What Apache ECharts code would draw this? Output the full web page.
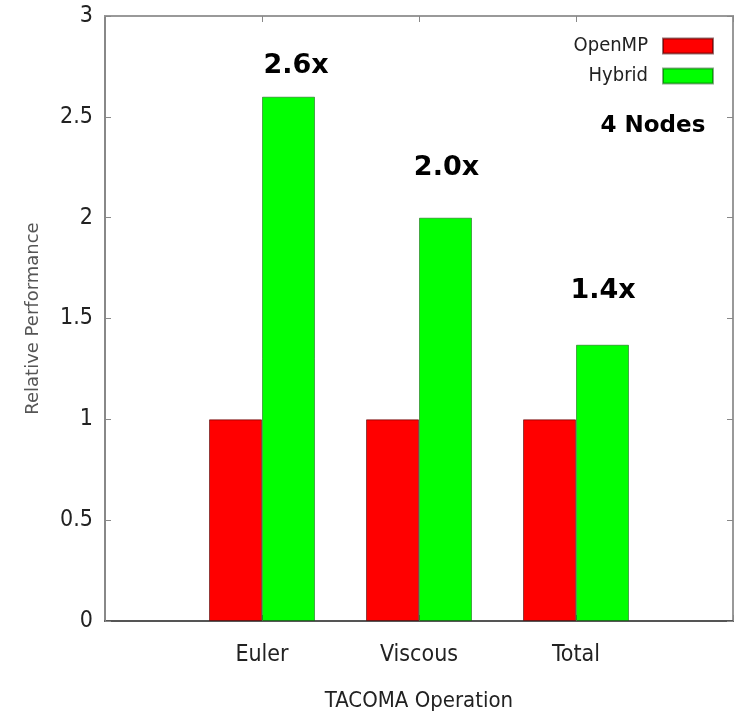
<!DOCTYPE html>
<html>
<head>
<meta charset="utf-8">
<script src="https://cdn.jsdelivr.net/npm/echarts@6/dist/echarts.min.js"></script>
<style>html,body{margin:0;padding:0;background:#fff}#c{width:736px;height:713px}</style>
</head>
<body>
<div id="c"></div>
<script>
var categories = ['Euler', 'Viscous', 'Total'];
var categoryPositions = [1, 2, 3];
var openmpValues = [1, 1, 1];
var hybridValues = [2.6, 2.0, 1.37];
var seriesNames = ['OpenMP', 'Hybrid'];
var speedupLabels = ['2.6x', '2.0x', '1.4x'];
var yTicks = [0, 0.5, 1, 1.5, 2, 2.5, 3];

// annotation anchors in data coordinates (x on 0..4 scale, y in value units)
var speedupAnchors = [[1.217, 2.752], [2.175, 2.245], [3.172, 1.634]];
var nodesLabel = '4 Nodes';
var nodesAnchor = [3.49, 2.455];

var narrow = "'Liberation Sans Narrow','DejaVu Sans Condensed','Liberation Sans',sans-serif";
var chart = echarts.init(document.getElementById('c'), null, {renderer: 'canvas'});

function pairs(xs, ys) { return xs.map(function (x, i) { return [x, ys[i]]; }); }

var tickStyle = {show: true, inside: true, length: 6, lineStyle: {color: '#888', width: 1}};

var option = {
  animation: false,
  backgroundColor: '#fff',
  grid: {left: 105, right: 3, top: 16, bottom: 92, show: true, borderColor: '#999', borderWidth: 2,
    containLabel: false, outerBoundsMode: 'none'},
  legend: {
    orient: 'vertical', right: 17, top: 31, align: 'right',
    itemWidth: 50, itemHeight: 15, itemGap: 10,
    icon: 'rect',
    textStyle: {fontFamily: narrow, fontSize: 20, color: '#222', lineHeight: 15, padding: [0, 10, 0, 0]},
    data: seriesNames
  },
  xAxis: [{
    type: 'value', min: 0, max: 4, interval: 1,
    name: 'TACOMA Operation', nameLocation: 'middle', nameGap: 69,
    nameTextStyle: {fontFamily: narrow, fontSize: 22, color: '#222'},
    axisLine: {show: true, onZero: false, lineStyle: {color: '#555', width: 2}},
    axisTick: tickStyle,
    axisLabel: {margin: 23, fontFamily: narrow, fontSize: 23, color: '#222',
      formatter: function (v) { var i = categoryPositions.indexOf(v); return i >= 0 ? categories[i] : ''; }},
    splitLine: {show: false}
  }, {
    type: 'value', min: 0, max: 4, interval: 1, position: 'top',
    axisLine: {show: true, onZero: false, lineStyle: {color: '#999', width: 2}},
    axisTick: tickStyle,
    axisLabel: {show: false}, splitLine: {show: false}
  }],
  yAxis: [{
    type: 'value', min: yTicks[0], max: yTicks[yTicks.length - 1], interval: 0.5,
    name: 'Relative Performance', nameLocation: 'middle', nameGap: 63, nameRotate: 90,
    nameTextStyle: {fontFamily: "'DejaVu Sans',sans-serif", fontSize: 18, color: '#555'},
    axisLine: {show: true, onZero: false, lineStyle: {color: '#888', width: 2}},
    axisTick: tickStyle,
    axisLabel: {margin: 12, fontFamily: narrow, fontSize: 23, color: '#222'},
    splitLine: {show: false}
  }, {
    type: 'value', min: yTicks[0], max: yTicks[yTicks.length - 1], interval: 0.5, position: 'right',
    axisLine: {show: true, onZero: false, lineStyle: {color: '#999', width: 2}},
    axisTick: tickStyle,
    axisLabel: {show: false}, splitLine: {show: false}
  }],
  series: [{
    name: seriesNames[0], type: 'bar', barWidth: 53, barGap: '0%',
    itemStyle: {color: '#ff0000', borderColor: 'rgba(60,0,0,0.55)', borderWidth: 1},
    data: pairs(categoryPositions, openmpValues)
  }, {
    name: seriesNames[1], type: 'bar', barWidth: 53, barGap: '0%',
    itemStyle: {color: '#00ff00', borderColor: 'rgba(0,60,0,0.45)', borderWidth: 1},
    data: pairs(categoryPositions, hybridValues)
  }]
};
chart.setOption(option);

var graphics = [];
speedupLabels.forEach(function (t, i) {
  var p = chart.convertToPixel({xAxisIndex: 0, yAxisIndex: 0}, speedupAnchors[i]);
  graphics.push({type: 'text', x: p[0], y: p[1], z: 10,
    style: {text: t, fill: '#000', font: "bold 27px 'DejaVu Sans', sans-serif", textAlign: 'center', textVerticalAlign: 'middle'}});
});
var pn = chart.convertToPixel({xAxisIndex: 0, yAxisIndex: 0}, nodesAnchor);
graphics.push({type: 'text', x: pn[0], y: pn[1], z: 10,
  style: {text: nodesLabel, fill: '#000', font: "bold 23px 'DejaVu Sans', sans-serif", textAlign: 'center', textVerticalAlign: 'middle'}});
chart.setOption({graphic: graphics});
</script>
</body>
</html>
